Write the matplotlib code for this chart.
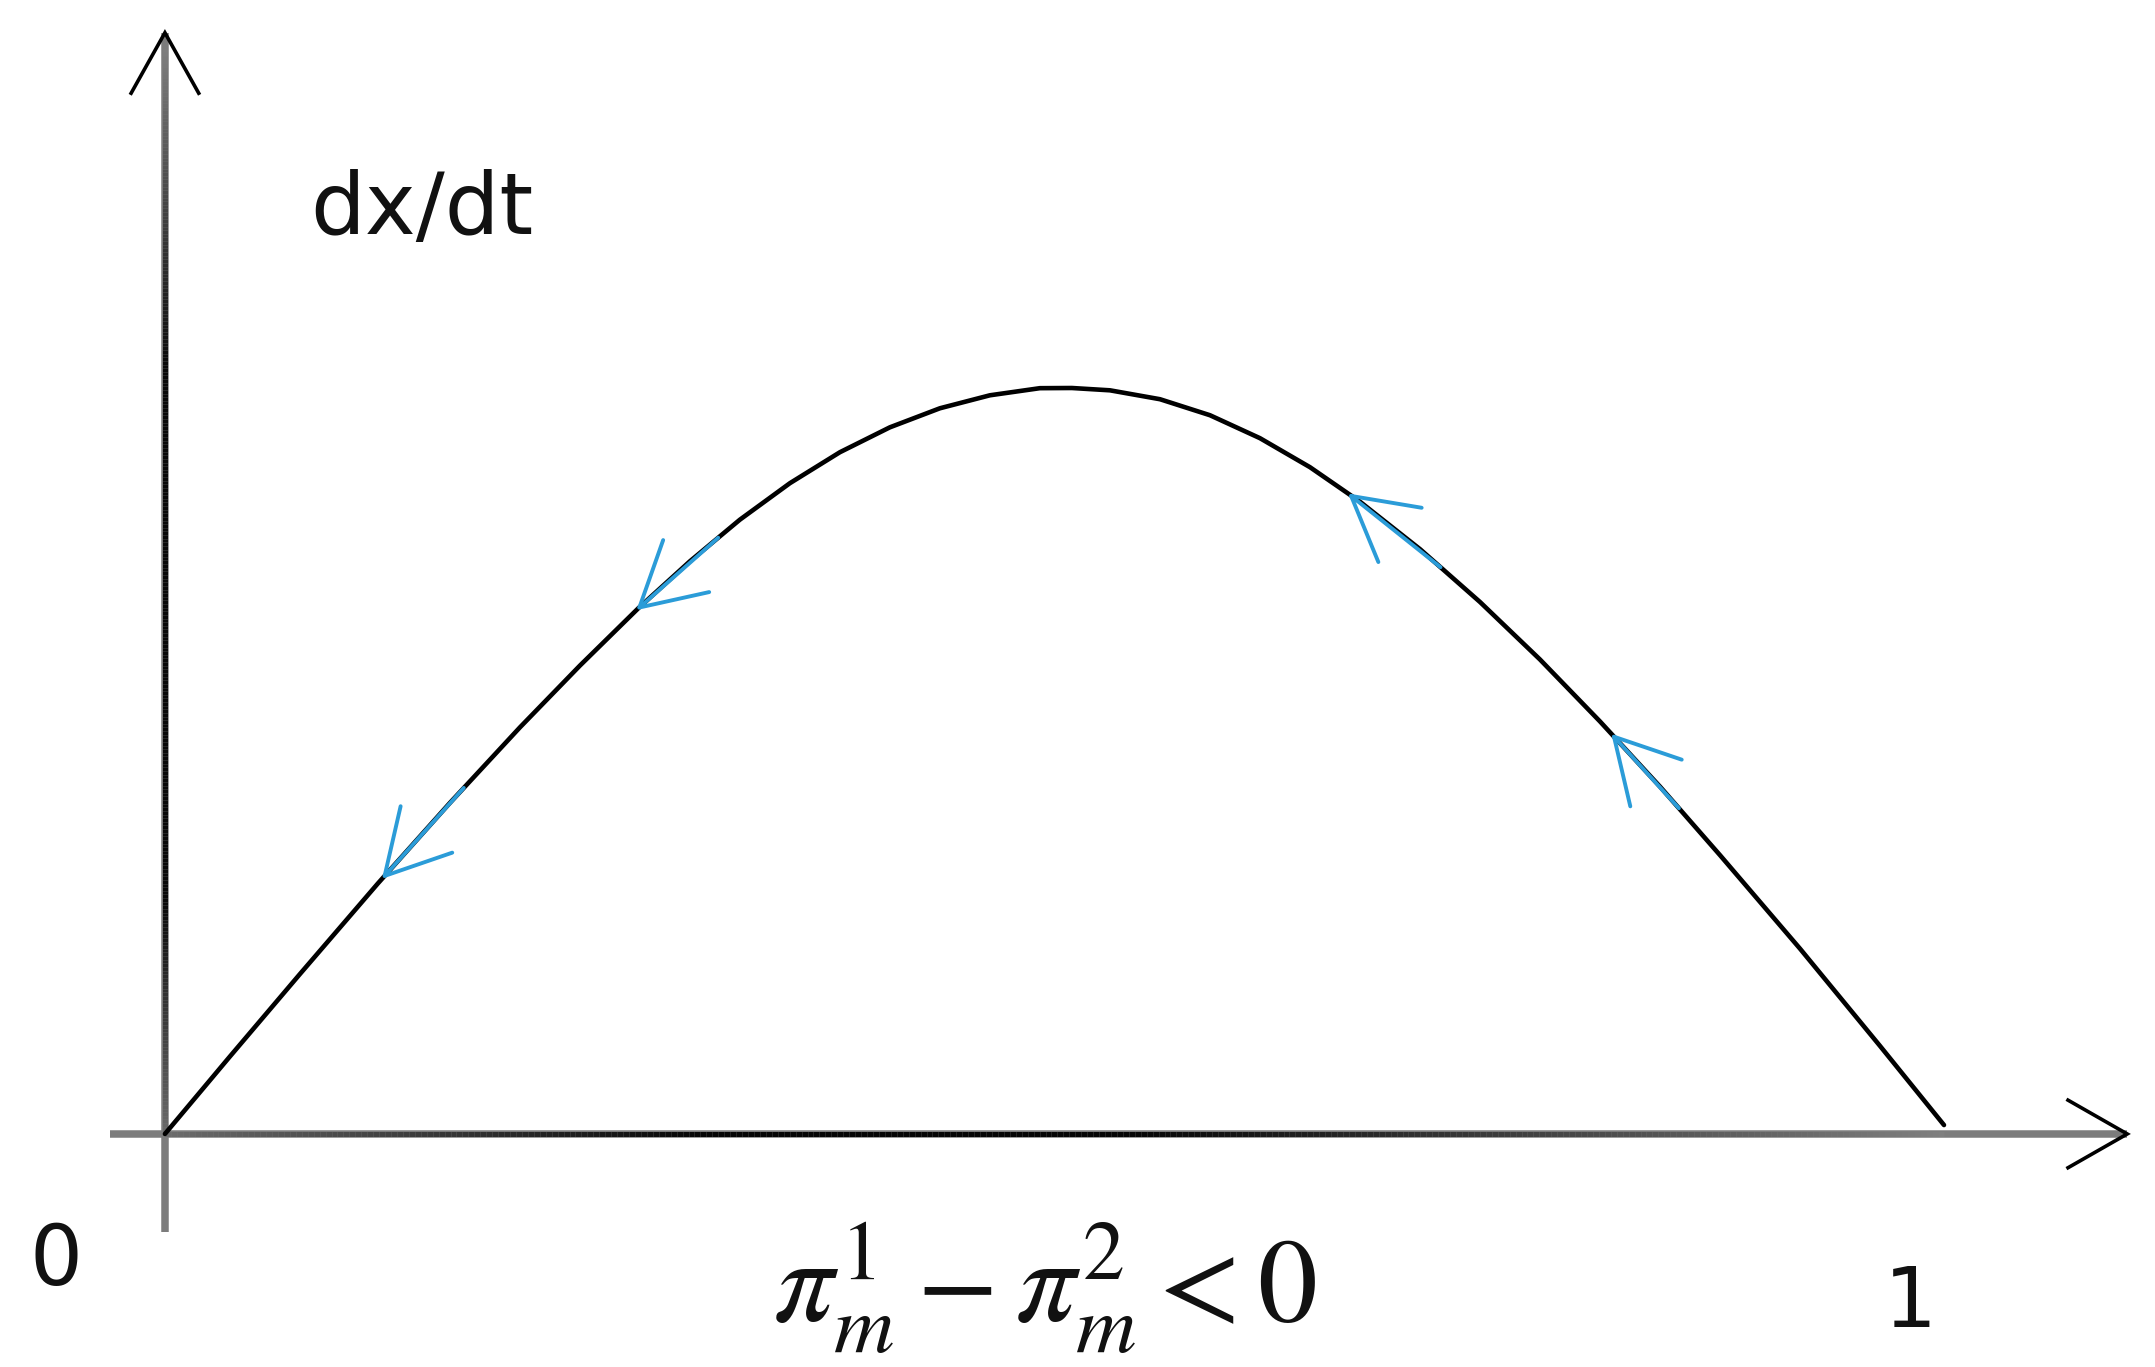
import matplotlib
matplotlib.use("Agg")
import matplotlib.pyplot as plt
from matplotlib.collections import LineCollection
import numpy as np

# curve (x from 0 to 1, same unit on y)
curve_x = [0.0, 0.0365, 0.0759, 0.1197, 0.1602, 0.1996, 0.2333, 0.2664,
           0.2951, 0.3232, 0.3513, 0.3794, 0.4075, 0.4356, 0.4637, 0.4918,
           0.5098, 0.5312, 0.5593, 0.5874, 0.6155, 0.6436, 0.6717, 0.7055,
           0.7392, 0.7729, 0.8066, 0.8404, 0.8741, 0.9191, 0.9640, 1.0]
curve_y = [0.0, 0.0435, 0.0899, 0.1408, 0.1861, 0.2286, 0.2633, 0.2958,
           0.3219, 0.3453, 0.3658, 0.3832, 0.3972, 0.4079, 0.4152, 0.4192,
           0.4193, 0.4180, 0.4130, 0.4040, 0.3911, 0.3748, 0.3554, 0.3287,
           0.2990, 0.2667, 0.2319, 0.1952, 0.1567, 0.1041, 0.0495, 0.005]

# blue direction arrows: (tail x, tip x) along the curve
arrow_tail = [0.311, 0.168, 0.717, 0.851]
arrow_tip = [0.265, 0.122, 0.665, 0.813]

x_labels = ["0", "1"]
y_label = "dx/dt"
cond_label = r"$\pi_m^1 - \pi_m^2 < 0$"

BLUE = "#2b9cd8"

plt.rcParams["mathtext.fontset"] = "stix"

fig = plt.figure(figsize=(21.55, 13.67), dpi=100)
ax = fig.add_axes([0, 0, 1, 1])
ax.set_xlim(-0.0927, 1.1186)
ax.set_ylim(-0.1310, 0.6374)
ax.axis("off")


def grad_line(xs, ys, vals, lw, z):
    pts = np.column_stack([xs, ys]).reshape(-1, 1, 2)
    segs = np.concatenate([pts[:-1], pts[1:]], axis=1)
    cols = [(v, v, v) for v in vals[:-1]]
    lc = LineCollection(segs, colors=cols, linewidths=lw, zorder=z,
                        capstyle="butt")
    ax.add_collection(lc)


# x axis
ax.plot([-0.031, 1.103], [0, 0], color="#7c7c7c", lw=5.4, zorder=1,
        solid_capstyle="butt")
gx = np.linspace(0, 1.0, 300)
grad_line(gx, np.zeros_like(gx),
          np.interp(gx, [0, 0.3, 0.54, 1.0], [0.42, 0.02, 0.02, 0.5]), 3.6, 2)
ax.plot([1.0697, 1.103, 1.0697], [0.019, 0.0, -0.019], color="black",
        lw=2.6, zorder=3, solid_joinstyle="miter")

# y axis
ax.plot([0, 0], [-0.055, 0.619], color="#7c7c7c", lw=5.4, zorder=1,
        solid_capstyle="butt")
gy = np.linspace(0.0, 0.61, 300)
grad_line(np.zeros_like(gy), gy,
          np.interp(gy, [0, 0.13, 0.43, 0.61], [0.42, 0.03, 0.03, 0.5]), 3.6, 2)
ax.plot([-0.019, 0.0, 0.019], [0.585, 0.619, 0.585], color="black",
        lw=2.6, zorder=3, solid_joinstyle="miter")

# curve
ax.plot(curve_x, curve_y, color="black", lw=3.3, zorder=4,
        solid_capstyle="round", solid_joinstyle="round")

for t0, t1 in zip(arrow_tail, arrow_tip):
    y0 = np.interp(t0, curve_x, curve_y)
    y1 = np.interp(t1, curve_x, curve_y)
    ax.annotate("", xy=(t1, y1), xytext=(t0, y0),
                arrowprops=dict(arrowstyle="->,head_length=0.9,head_width=0.5",
                                color=BLUE, lw=2.8, shrinkA=0, shrinkB=0,
                                mutation_scale=50),
                zorder=5)

ax.text(0.1445, 0.506, y_label, fontsize=62, color="#111111",
        ha="center", va="baseline", family="DejaVu Sans")
ax.text(-0.0613, -0.0849, x_labels[0], fontsize=60, color="#111111",
        ha="center", va="baseline", family="DejaVu Sans")
ax.text(0.981, -0.1085, x_labels[1], fontsize=60, color="#111111",
        ha="center", va="baseline", family="DejaVu Sans")
ax.text(0.4947, -0.1057, cond_label, fontsize=86, color="#111111",
        ha="center", va="baseline")

fig.savefig("out.png", dpi=100)
